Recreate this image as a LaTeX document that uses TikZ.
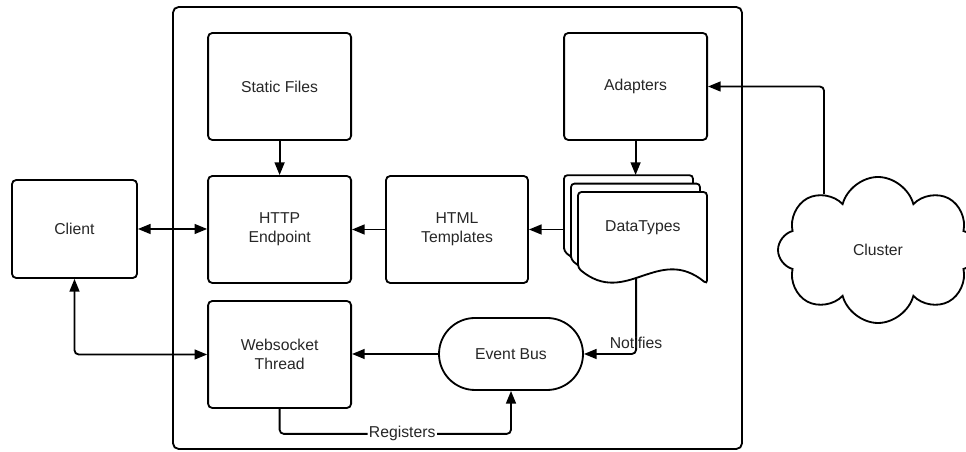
\documentclass[tikz,border=0pt]{standalone}
\usepackage{fontspec}
\setmainfont{Liberation Sans}
\usetikzlibrary{shapes,arrows.meta,positioning,calc}

\begin{document}
\begin{tikzpicture}[
        line width=1.3pt,
        >={Triangle[length=9pt,width=7pt]},
        font=\fontsize{11.2}{13.5}\selectfont,
        text=black!85,
        box/.style={draw, rounded corners=3pt, align=center, minimum width=3.575cm, minimum height=2.675cm},
        link/.style={->, rounded corners=3pt},
    ]
        \useasboundingbox (0,0) rectangle (24.15,11.3);

        % Server
        \node[draw, rounded corners=4pt, minimum width=14.225cm, minimum height=11.05cm] (server) at (11.4375,5.6) {};

        \node[box] (static) at (6.99,9.1375) {Static Files};
        \node[box] (adapters) at (15.89,9.1375) {Adapters};
        \node[box] (http) at (6.99,5.5625) {HTTP\\Endpoint};
        \node[box, minimum width=3.55cm] (html) at (11.425,5.5625) {HTML\\Templates};
        \node[box] (ws) at (6.99,2.4375) {Websocket\\Thread};
        \node[draw, rounded corners=0.9cm, minimum width=3.6cm, minimum height=1.8cm] (bus) at (12.775,2.45) {Event Bus};

        % DataTypes (stacked pages)
        \foreach \d in {2,1,0}
            \draw[fill=white, rounded corners=2.5pt, shift={(14.45-0.175*\d,6.5+0.21*\d)}]
                (0,-1.9) -- (0,0) -- (3.225,0) -- (3.225,-2.3) .. controls (2.0,-1.3) and (1.2,-2.9) .. (0,-1.9) -- cycle;
        \path (14.45,4.6) .. controls (15.65,3.6) and (16.45,5.2) .. (17.675,4.2) coordinate[pos=0.45] (types-s);
        \node (types) at (16.07,5.6) {DataTypes};
        \coordinate (types-w) at (14.1,5.5625);
        \coordinate (types-n) at (15.89,6.925);

        % Outside
        \node[draw, rounded corners=3pt, minimum width=3.125cm, minimum height=2.45cm] (client) at (1.8625,5.575) {Client};
        \node[draw, cloud, cloud puffs=8, aspect=1.4, minimum width=5cm, minimum height=3.65cm] (cluster) at (21.95,5.05) {Cluster};

        % Connectors
        \draw[->] (static) -- (http);
        \draw[->] (adapters) -- (types-n);
        \draw[->] (html) -- (http);
        \draw[->] (types-w) -- (html.east);
        \draw[<->] (client.east) -- (client.east -| http.west);
        \draw[link, <->] (client.south) |- (ws.west);
        \draw[->] (bus.west) -- (bus.west -| ws.east);
        \draw[link] (types-s) |- (bus.east) node[pos=0.5, above, inner sep=3pt] {Notifies};
        \draw[link] (ws.south) -- ++(0,-0.625) coordinate (reg) -- (reg -| bus.south)
            node[pos=0.53, fill=white, inner sep=1pt] {Registers} -- (bus.south);
        \draw[link] (cluster.134) |- (adapters.east);
    \end{tikzpicture}
\end{document}
